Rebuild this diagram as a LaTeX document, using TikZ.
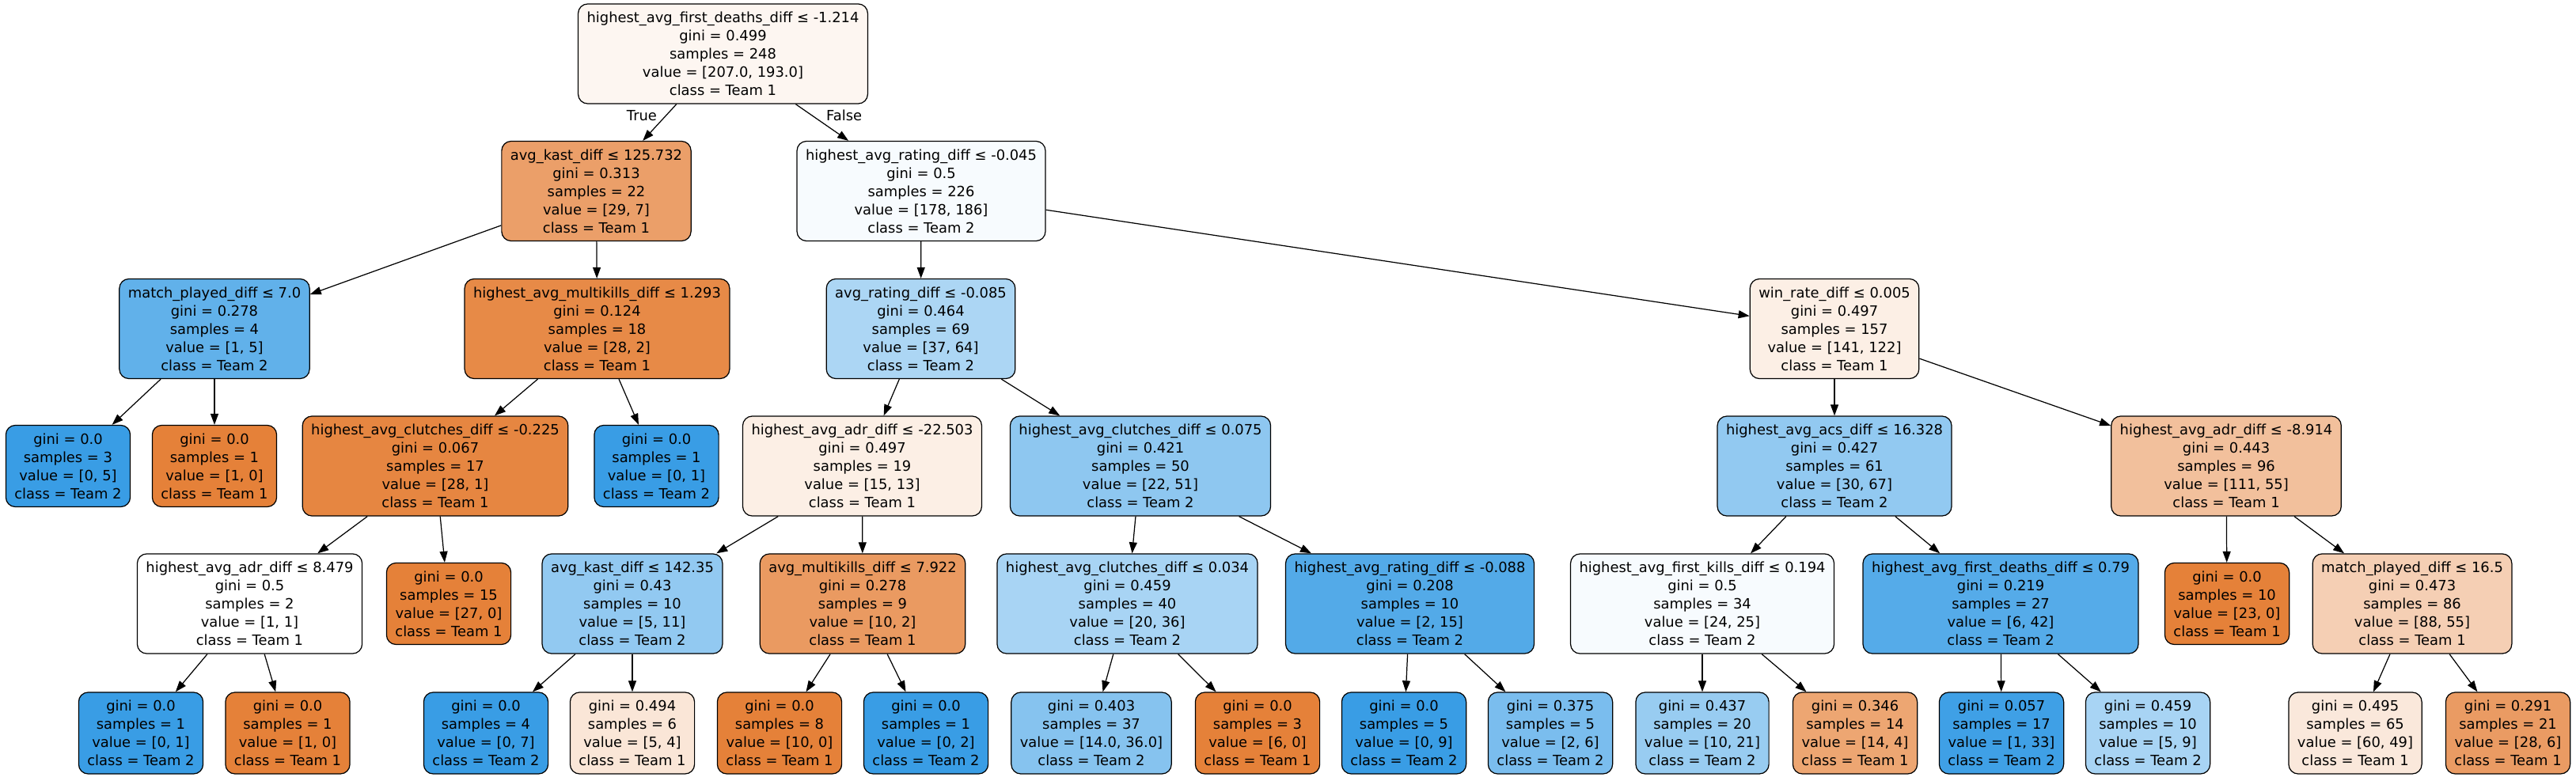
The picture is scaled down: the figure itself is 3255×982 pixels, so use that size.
\documentclass[tikz,border=0pt]{standalone}
\usepackage{fontspec}
\setmainfont{DejaVu Sans}
\usepackage{tikz}
\usetikzlibrary{arrows.meta}

\definecolor{teamone}{HTML}{E58139}
\definecolor{teamtwo}{HTML}{399DE5}

\begin{document}
\begin{tikzpicture}[
      x=0.01cm, y=-0.01cm,
      font=\fontsize{5.09}{6.54}\selectfont,
      cond/.style  ={draw,line width=0.35pt,rounded corners=0.12cm,align=center,inner xsep=0.11cm,inner ysep=0pt,minimum height=1.26cm},
      leaf/.style  ={cond,minimum height=1.03cm},
      branch/.style={-{Triangle[length=0.14cm,width=0.1cm]},line width=0.35pt},
      lbl/.style   ={inner sep=0pt}]
      \useasboundingbox (0,0) rectangle (3255,982);

      % Depth 0 and 1
      \node[cond,fill=teamone!7!white] (root) at (913.5,68) {highest\_avg\_first\_deaths\_diff ≤ -1.214\\gini = 0.499\\samples = 248\\value = [207.0, 193.0]\\class = Team 1};
      \node[cond,fill=teamone!76!white] (kastA) at (753.5,241.5) {avg\_kast\_diff ≤ 125.732\\gini = 0.313\\samples = 22\\value = [29, 7]\\class = Team 1};
      \node[cond,fill=teamtwo!4!white] (ratingA) at (1164,241.5) {highest\_avg\_rating\_diff ≤ -0.045\\gini = 0.5\\samples = 226\\value = [178, 186]\\class = Team 2};

      % Depth 2
      \node[cond,fill=teamtwo!80!white] (playedA) at (271,415.5) {match\_played\_diff ≤ 7.0\\gini = 0.278\\samples = 4\\value = [1, 5]\\class = Team 2};
      \node[cond,fill=teamone!93!white] (multiA) at (754.5,415.5) {highest\_avg\_multikills\_diff ≤ 1.293\\gini = 0.124\\samples = 18\\value = [28, 2]\\class = Team 1};
      \node[cond,fill=teamtwo!42!white] (avgRating) at (1163.5,415.5) {avg\_rating\_diff ≤ -0.085\\gini = 0.464\\samples = 69\\value = [37, 64]\\class = Team 2};
      \node[cond,fill=teamone!13!white] (winRate) at (2318,415.5) {win\_rate\_diff ≤ 0.005\\gini = 0.497\\samples = 157\\value = [141, 122]\\class = Team 1};

      % Depth 3
      \node[leaf,fill=teamtwo] (leafA) at (86,589) {gini = 0.0\\samples = 3\\value = [0, 5]\\class = Team 2};
      \node[leaf,fill=teamone] (leafB) at (271,589) {gini = 0.0\\samples = 1\\value = [1, 0]\\class = Team 1};
      \node[cond,fill=teamone!96!white] (clutchA) at (550,589) {highest\_avg\_clutches\_diff ≤ -0.225\\gini = 0.067\\samples = 17\\value = [28, 1]\\class = Team 1};
      \node[leaf,fill=teamtwo] (leafC) at (829.5,589) {gini = 0.0\\samples = 1\\value = [0, 1]\\class = Team 2};
      \node[cond,fill=teamone!13!white] (adrA) at (1089.5,589) {highest\_avg\_adr\_diff ≤ -22.503\\gini = 0.497\\samples = 19\\value = [15, 13]\\class = Team 1};
      \node[cond,fill=teamtwo!57!white] (clutchB) at (1441,589) {highest\_avg\_clutches\_diff ≤ 0.075\\gini = 0.421\\samples = 50\\value = [22, 51]\\class = Team 2};
      \node[cond,fill=teamtwo!55!white] (acs) at (2318,589) {highest\_avg\_acs\_diff ≤ 16.328\\gini = 0.427\\samples = 61\\value = [30, 67]\\class = Team 2};
      \node[cond,fill=teamone!50!white] (adrB) at (2813,589) {highest\_avg\_adr\_diff ≤ -8.914\\gini = 0.443\\samples = 96\\value = [111, 55]\\class = Team 1};

      % Depth 4
      \node[cond,fill=white] (adrC) at (315.5,763) {highest\_avg\_adr\_diff ≤ 8.479\\gini = 0.5\\samples = 2\\value = [1, 1]\\class = Team 1};
      \node[leaf,fill=teamone] (leafD) at (567,763) {gini = 0.0\\samples = 15\\value = [27, 0]\\class = Team 1};
      \node[cond,fill=teamtwo!55!white] (kastB) at (799,763) {avg\_kast\_diff ≤ 142.35\\gini = 0.43\\samples = 10\\value = [5, 11]\\class = Team 2};
      \node[cond,fill=teamone!80!white] (multiB) at (1090,763) {avg\_multikills\_diff ≤ 7.922\\gini = 0.278\\samples = 9\\value = [10, 2]\\class = Team 1};
      \node[cond,fill=teamtwo!44!white] (clutchC) at (1424.5,763) {highest\_avg\_clutches\_diff ≤ 0.034\\gini = 0.459\\samples = 40\\value = [20, 36]\\class = Team 2};
      \node[cond,fill=teamtwo!87!white] (ratingB) at (1781.5,763) {highest\_avg\_rating\_diff ≤ -0.088\\gini = 0.208\\samples = 10\\value = [2, 15]\\class = Team 2};
      \node[cond,fill=teamtwo!4!white] (firstKills) at (2151,763) {highest\_avg\_first\_kills\_diff ≤ 0.194\\gini = 0.5\\samples = 34\\value = [24, 25]\\class = Team 2};
      \node[cond,fill=teamtwo!86!white] (firstDeaths) at (2528,763) {highest\_avg\_first\_deaths\_diff ≤ 0.79\\gini = 0.219\\samples = 27\\value = [6, 42]\\class = Team 2};
      \node[leaf,fill=teamone] (leafE) at (2814,763) {gini = 0.0\\samples = 10\\value = [23, 0]\\class = Team 1};
      \node[cond,fill=teamone!38!white] (playedB) at (3048,763) {match\_played\_diff ≤ 16.5\\gini = 0.473\\samples = 86\\value = [88, 55]\\class = Team 1};

      % Depth 5 (leaves)
      \node[leaf,fill=teamtwo] (leafF) at (178,926.5) {gini = 0.0\\samples = 1\\value = [0, 1]\\class = Team 2};
      \node[leaf,fill=teamone] (leafG) at (363.5,926.5) {gini = 0.0\\samples = 1\\value = [1, 0]\\class = Team 1};
      \node[leaf,fill=teamtwo] (leafH) at (614,926.5) {gini = 0.0\\samples = 4\\value = [0, 7]\\class = Team 2};
      \node[leaf,fill=teamone!20!white] (leafI) at (799,926.5) {gini = 0.494\\samples = 6\\value = [5, 4]\\class = Team 1};
      \node[leaf,fill=teamone] (leafJ) at (985,926.5) {gini = 0.0\\samples = 8\\value = [10, 0]\\class = Team 1};
      \node[leaf,fill=teamtwo] (leafK) at (1170,926.5) {gini = 0.0\\samples = 1\\value = [0, 2]\\class = Team 2};
      \node[leaf,fill=teamtwo!61!white] (leafL) at (1379,926.5) {gini = 0.403\\samples = 37\\value = [14.0, 36.0]\\class = Team 2};
      \node[leaf,fill=teamone] (leafM) at (1589,926.5) {gini = 0.0\\samples = 3\\value = [6, 0]\\class = Team 1};
      \node[leaf,fill=teamtwo] (leafN) at (1774,926.5) {gini = 0.0\\samples = 5\\value = [0, 9]\\class = Team 2};
      \node[leaf,fill=teamtwo!67!white] (leafO) at (1959,926.5) {gini = 0.375\\samples = 5\\value = [2, 6]\\class = Team 2};
      \node[leaf,fill=teamtwo!52!white] (leafP) at (2151,926.5) {gini = 0.437\\samples = 20\\value = [10, 21]\\class = Team 2};
      \node[leaf,fill=teamone!71!white] (leafQ) at (2344,926.5) {gini = 0.346\\samples = 14\\value = [14, 4]\\class = Team 1};
      \node[leaf,fill=teamtwo!97!white] (leafR) at (2529,926.5) {gini = 0.057\\samples = 17\\value = [1, 33]\\class = Team 2};
      \node[leaf,fill=teamtwo!44!white] (leafS) at (2714,926.5) {gini = 0.459\\samples = 10\\value = [5, 9]\\class = Team 2};
      \node[leaf,fill=teamone!18!white] (leafT) at (2976,926.5) {gini = 0.495\\samples = 65\\value = [60, 49]\\class = Team 1};
      \node[leaf,fill=teamone!79!white] (leafU) at (3169,926.5) {gini = 0.291\\samples = 21\\value = [28, 6]\\class = Team 1};

      % Branches
      \draw[branch] (root) -- node[lbl,pos=0.31,anchor=east,xshift=-0.11cm] {True} (kastA);
      \draw[branch] (root) -- node[lbl,pos=0.31,anchor=west,xshift=0.175cm] {False} (ratingA);
      \foreach \a/\b in {kastA/playedA,kastA/multiA,playedA/leafA,playedA/leafB,multiA/clutchA,multiA/leafC,
                         clutchA/adrC,clutchA/leafD,adrC/leafF,adrC/leafG,
                         ratingA/avgRating,ratingA/winRate,avgRating/adrA,avgRating/clutchB,
                         adrA/kastB,adrA/multiB,kastB/leafH,kastB/leafI,multiB/leafJ,multiB/leafK,
                         clutchB/clutchC,clutchB/ratingB,clutchC/leafL,clutchC/leafM,ratingB/leafN,ratingB/leafO,
                         winRate/acs,winRate/adrB,acs/firstKills,acs/firstDeaths,firstKills/leafP,firstKills/leafQ,
                         firstDeaths/leafR,firstDeaths/leafS,adrB/leafE,adrB/playedB,playedB/leafT,playedB/leafU}
        \draw[branch] (\a) -- (\b);
  \end{tikzpicture}
\end{document}
